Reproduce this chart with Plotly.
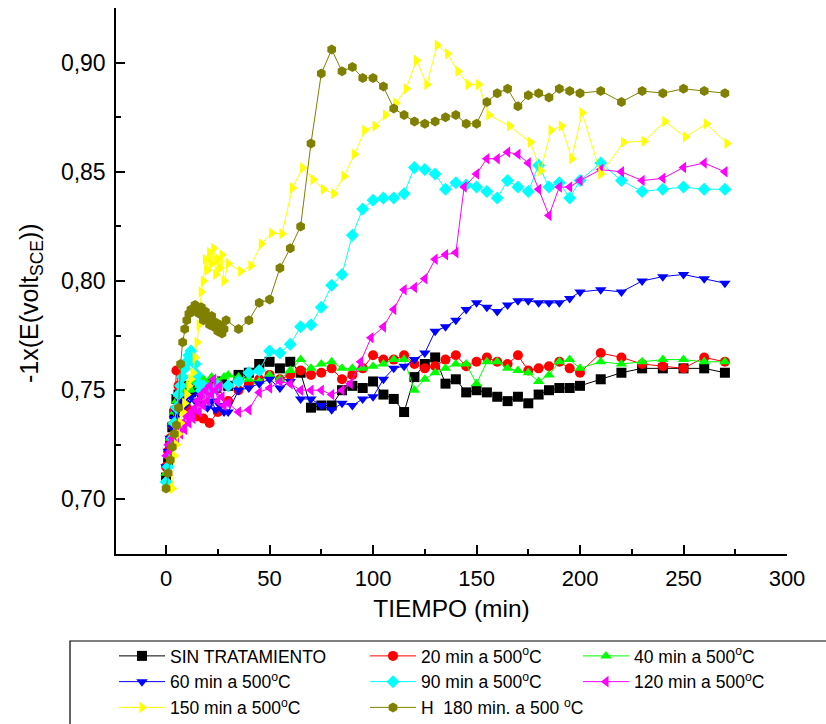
import plotly.graph_objects as go

# --- time (min) and potential (-1 x E, V vs SCE) for each treatment ---
t_sin = [0, 1, 2, 3, 4, 5, 6, 8, 10, 12, 15, 18, 21, 24, 27, 30, 35, 40, 45, 50, 55, 60, 65, 70, 75, 80, 85, 90, 95,
         100, 105, 110, 115, 120, 125, 130, 135, 140, 145, 150, 155, 160, 165, 170, 175, 180, 185, 190, 195, 200,
         210, 220, 230, 240, 250, 260, 270]
v_sin = [0.710, 0.718, 0.726, 0.733, 0.739, 0.746, 0.748, 0.750, 0.752, 0.749, 0.752, 0.750, 0.753, 0.751, 0.754,
         0.752, 0.757, 0.758, 0.762, 0.763, 0.760, 0.763, 0.758, 0.742, 0.743, 0.743, 0.750, 0.752, 0.751, 0.754,
         0.748, 0.746, 0.740, 0.756, 0.762, 0.765, 0.753, 0.755, 0.749, 0.750, 0.749, 0.747, 0.745, 0.747, 0.744,
         0.748, 0.750, 0.751, 0.751, 0.752, 0.755, 0.758, 0.760, 0.760, 0.760, 0.760, 0.758]

t_20 = [0, 1, 2, 3, 4, 5, 6, 7, 8, 10, 12, 15, 18, 21, 25, 30, 35, 40, 45, 50, 55, 60, 65, 70, 75, 80, 85, 90, 95,
        100, 105, 110, 115, 120, 125, 130, 135, 140, 145, 150, 155, 160, 165, 170, 175, 180, 185, 190, 195, 200,
        210, 220, 230, 240, 250, 260, 270]
v_20 = [0.715, 0.722, 0.728, 0.734, 0.741, 0.759, 0.752, 0.748, 0.745, 0.742, 0.740, 0.738, 0.737, 0.735, 0.740,
        0.745, 0.750, 0.753, 0.755, 0.757, 0.755, 0.757, 0.759, 0.757, 0.758, 0.760, 0.755, 0.757, 0.760, 0.766,
        0.764, 0.764, 0.766, 0.762, 0.760, 0.761, 0.764, 0.766, 0.761, 0.763, 0.765, 0.763, 0.762, 0.766, 0.759,
        0.760, 0.761, 0.763, 0.760, 0.758, 0.767, 0.765, 0.762, 0.761, 0.760, 0.765, 0.763]

t_40 = [0, 1, 2, 3, 4, 5, 6, 8, 10, 12, 14, 16, 18, 20, 22, 25, 28, 30, 35, 40, 45, 50, 55, 60, 65, 70, 75, 80, 85,
        90, 95, 100, 105, 110, 115, 120, 125, 130, 135, 140, 145, 150, 155, 160, 165, 170, 175, 180, 185, 190, 195,
        200, 210, 220, 230, 240, 250, 260, 270]
v_40 = [0.712, 0.720, 0.728, 0.735, 0.740, 0.745, 0.748, 0.750, 0.752, 0.750, 0.754, 0.752, 0.755, 0.753, 0.756,
        0.754, 0.756, 0.757, 0.756, 0.755, 0.754, 0.757, 0.755, 0.759, 0.764, 0.760, 0.762, 0.763, 0.760, 0.760,
        0.760, 0.761, 0.762, 0.764, 0.764, 0.750, 0.755, 0.758, 0.760, 0.762, 0.762, 0.753, 0.763, 0.763, 0.760,
        0.759, 0.758, 0.754, 0.757, 0.763, 0.764, 0.760, 0.763, 0.762, 0.763, 0.764, 0.764, 0.763, 0.763]

t_60 = [0, 1, 2, 3, 4, 5, 6, 7, 8, 9, 10, 12, 14, 16, 18, 20, 22, 24, 26, 28, 30, 35, 40, 45, 50, 55, 60, 65, 70,
        75, 80, 85, 90, 95, 100, 105, 110, 115, 120, 125, 130, 135, 140, 145, 150, 155, 160, 165, 170, 175, 180,
        185, 190, 195, 200, 210, 220, 230, 240, 250, 260, 270]
v_60 = [0.715, 0.722, 0.728, 0.733, 0.737, 0.740, 0.742, 0.745, 0.742, 0.746, 0.744, 0.747, 0.745, 0.748, 0.744,
        0.742, 0.745, 0.741, 0.743, 0.740, 0.740, 0.750, 0.751, 0.753, 0.755, 0.751, 0.754, 0.746, 0.746, 0.743,
        0.741, 0.744, 0.743, 0.746, 0.747, 0.755, 0.760, 0.761, 0.764, 0.767, 0.777, 0.779, 0.782, 0.787, 0.790,
        0.788, 0.786, 0.789, 0.791, 0.791, 0.790, 0.790, 0.790, 0.792, 0.795, 0.796, 0.795, 0.800, 0.802, 0.803,
        0.801, 0.799]

t_90 = [0, 1, 2, 3, 4, 5, 6, 7, 8, 9, 10, 11, 12, 13, 14, 15, 16, 17, 18, 20, 22, 25, 30, 35, 40, 45, 50, 55, 60,
        65, 70, 75, 80, 85, 90, 95, 100, 105, 110, 115, 120, 125, 130, 135, 140, 145, 150, 155, 160, 165, 170, 175,
        180, 185, 190, 195, 200, 210, 220, 230, 240, 250, 260, 270]
v_90 = [0.708, 0.715, 0.720, 0.728, 0.735, 0.742, 0.748, 0.752, 0.756, 0.760, 0.763, 0.766, 0.768, 0.765, 0.762,
        0.757, 0.753, 0.750, 0.752, 0.748, 0.750, 0.752, 0.752, 0.754, 0.758, 0.759, 0.768, 0.767, 0.771, 0.779,
        0.780, 0.788, 0.798, 0.803, 0.821, 0.833, 0.837, 0.838, 0.838, 0.840, 0.852, 0.851, 0.849, 0.842, 0.845,
        0.844, 0.843, 0.841, 0.838, 0.846, 0.843, 0.841, 0.853, 0.843, 0.845, 0.838, 0.846, 0.854, 0.846, 0.841,
        0.842, 0.843, 0.842, 0.842]

t_120 = [0, 1, 2, 3, 4, 5, 6, 7, 8, 9, 10, 11, 12, 13, 14, 15, 16, 17, 18, 19, 20, 21, 22, 23, 24, 25, 26, 27, 28,
         30, 35, 40, 45, 50, 55, 60, 65, 70, 75, 80, 85, 89, 94, 99, 105, 110, 115, 120, 125, 130, 135, 140, 144,
         150, 155, 160, 165, 170, 175, 180, 185, 190, 195, 200, 210, 220, 230, 240, 250, 260, 270]
v_120 = [0.720, 0.725, 0.722, 0.728, 0.730, 0.727, 0.732, 0.730, 0.735, 0.732, 0.738, 0.735, 0.740, 0.737, 0.742,
         0.745, 0.740, 0.748, 0.743, 0.750, 0.745, 0.752, 0.748, 0.755, 0.750, 0.745, 0.752, 0.747, 0.743, 0.744,
         0.740, 0.741, 0.749, 0.751, 0.754, 0.753, 0.750, 0.750, 0.750, 0.748, 0.750, 0.753, 0.763, 0.774, 0.779,
         0.787, 0.796, 0.797, 0.801, 0.810, 0.812, 0.813, 0.843, 0.849, 0.856, 0.856, 0.859, 0.858, 0.854, 0.842,
         0.830, 0.843, 0.843, 0.846, 0.851, 0.850, 0.846, 0.847, 0.852, 0.854, 0.850]

t_150 = [3, 4, 5, 6, 7, 8, 9, 10, 11, 12, 13, 14, 15, 16, 17, 18, 19, 20, 21, 22, 23, 24, 25, 26, 27, 28, 30, 36,
         41, 46, 51, 56, 61, 66, 71, 76, 81, 86, 91, 96, 101, 106, 111, 116, 121, 126, 131, 136, 141, 146, 151,
         156, 166, 176, 181, 186, 191, 196, 201, 210, 221, 231, 241, 251, 261, 271]
v_150 = [0.705, 0.720, 0.725, 0.730, 0.735, 0.740, 0.744, 0.748, 0.752, 0.755, 0.758, 0.765, 0.772, 0.780, 0.795,
         0.800, 0.810, 0.805, 0.813, 0.808, 0.815, 0.803, 0.810, 0.806, 0.812, 0.800, 0.808, 0.8045, 0.807, 0.817,
         0.822, 0.8216, 0.8426, 0.8518, 0.8465, 0.842, 0.840, 0.848, 0.858, 0.869, 0.871, 0.876, 0.8815, 0.888,
         0.901, 0.890, 0.908, 0.904, 0.896, 0.890, 0.890, 0.876, 0.871, 0.8635, 0.8505, 0.869, 0.871, 0.856,
         0.877, 0.849, 0.8635, 0.864, 0.873, 0.866, 0.872, 0.863]

t_180 = [0, 1, 2, 3, 4, 5, 6, 7, 8, 9, 10, 11, 12, 13, 14, 15, 16, 17, 18, 19, 20, 21, 22, 23, 24, 25, 26, 27, 28,
         29, 35, 40, 45, 50, 55, 60, 65, 70, 75, 80, 85, 90, 95, 100, 105, 110, 115, 120, 125, 130, 135, 140, 145,
         150, 155, 160, 165, 170, 175, 180, 185, 190, 195, 200, 210, 220, 230, 240, 250, 260, 270]
v_180 = [0.705, 0.712, 0.718, 0.724, 0.730, 0.734, 0.742, 0.762, 0.772, 0.778, 0.782, 0.785, 0.787, 0.786, 0.789,
         0.788, 0.785, 0.788, 0.782, 0.786, 0.783, 0.780, 0.784, 0.779, 0.781, 0.777, 0.780, 0.776, 0.778, 0.782,
         0.778, 0.782, 0.790, 0.7915, 0.806, 0.815, 0.825, 0.863, 0.895, 0.906, 0.896, 0.898, 0.893, 0.893, 0.889,
         0.879, 0.876, 0.873, 0.872, 0.873, 0.875, 0.876, 0.872, 0.872, 0.882, 0.886, 0.888, 0.880, 0.885, 0.886,
         0.884, 0.888, 0.887, 0.886, 0.887, 0.882, 0.887, 0.886, 0.888, 0.887, 0.886]

series_names = [
    "SIN TRATAMIENTO",
    "20 min a 500<sup>o</sup>C",
    "40 min a 500<sup>o</sup>C",
    "60 min a 500<sup>o</sup>C",
    "90 min a 500<sup>o</sup>C",
    "120 min a 500<sup>o</sup>C",
    "150 min a 500<sup>o</sup>C",
    "H  180 min. a 500 <sup>o</sup>C",
]
series_t = [t_sin, t_20, t_40, t_60, t_90, t_120, t_150, t_180]
series_v = [v_sin, v_20, v_40, v_60, v_90, v_120, v_150, v_180]

colors = ["#000000", "#FF0000", "#00FF00", "#0000FF", "#00FFFF", "#FF00FF", "#FFFF00", "#808000"]
symbols = ["square", "circle", "triangle-up", "triangle-down", "diamond", "triangle-left", "triangle-right", "hexagon"]
legend_ids = ["legend", "legend2", "legend3", "legend", "legend2", "legend3", "legend", "legend2"]

FONT = "Liberation Sans, Arial, sans-serif"

# plot area in pixels
W, H = 826, 724
L, R, T, B = 116, 39, 8, 170
pw, ph = W - L - R, H - T - B


def px_x(p):
    return (p - L) / pw


def px_y(p):
    return (H - B - p) / ph


fig = go.Figure()
for name, t, v, c, s, lg in zip(series_names, series_t, series_v, colors, symbols, legend_ids):
    fig.add_trace(go.Scatter(
        x=t, y=v, name=name, mode="lines+markers",
        line=dict(color=c, width=1),
        marker=dict(symbol=s, color=c, size=10, line=dict(width=0)),
        legend=lg,
    ))

leg_common = dict(
    xanchor="left", yanchor="top", bgcolor="rgba(0,0,0,0)", borderwidth=0,
    font=dict(family=FONT, size=17.5, color="black"), itemwidth=46, tracegroupgap=0,
    orientation="v",
)

axis_common = dict(
    showline=True, linecolor="black", linewidth=1.5, mirror=False,
    showgrid=False, zeroline=False,
    ticks="inside", ticklen=9, tickwidth=1.5, tickcolor="black",
    ticklabelstandoff=4,
)

fig.update_layout(
    width=W, height=H,
    margin=dict(l=L, r=R, t=T, b=B, pad=0, autoexpand=False),
    paper_bgcolor="white", plot_bgcolor="white",
    separators=",.",
    font=dict(family=FONT, color="black"),
    xaxis=dict(
        range=[-24.2, 300], tickvals=[0, 50, 100, 150, 200, 250, 300],
        minor=dict(ticks="inside", ticklen=5, tickwidth=1.5, tickcolor="black", dtick=25, tick0=0),
        title=dict(text="TIEMPO (min)", font=dict(family=FONT, size=24.5, color="black"), standoff=10),
        tickfont=dict(family=FONT, size=22, color="black"),
        **axis_common,
    ),
    yaxis=dict(
        range=[0.675, 0.925], tickvals=[0.70, 0.75, 0.80, 0.85, 0.90], tickformat=".2f",
        minor=dict(ticks="inside", ticklen=5, tickwidth=1.5, tickcolor="black", dtick=0.025, tick0=0.675),
        tickfont=dict(family=FONT, size=23, color="black"),
        **axis_common,
    ),
    annotations=[dict(
        text="-1x(E(volt<sub>SCE</sub>))", textangle=-90,
        xref="paper", yref="paper", x=px_x(31), y=px_y(303),
        xanchor="center", yanchor="middle", showarrow=False,
        font=dict(family=FONT, size=25, color="black"),
    )],
    legend=dict(x=px_x(114), y=px_y(638), **leg_common),
    legend2=dict(x=px_x(365), y=px_y(638), **leg_common),
    legend3=dict(x=px_x(578), y=px_y(638), **leg_common),
    shapes=[dict(
        type="rect", xref="paper", yref="paper",
        x0=px_x(70), x1=px_x(840), y0=px_y(740), y1=px_y(641),
        line=dict(color="black", width=1.2), fillcolor="rgba(0,0,0,0)", layer="above",
    )],
    showlegend=True,
)

fig.write_html("out.html")
